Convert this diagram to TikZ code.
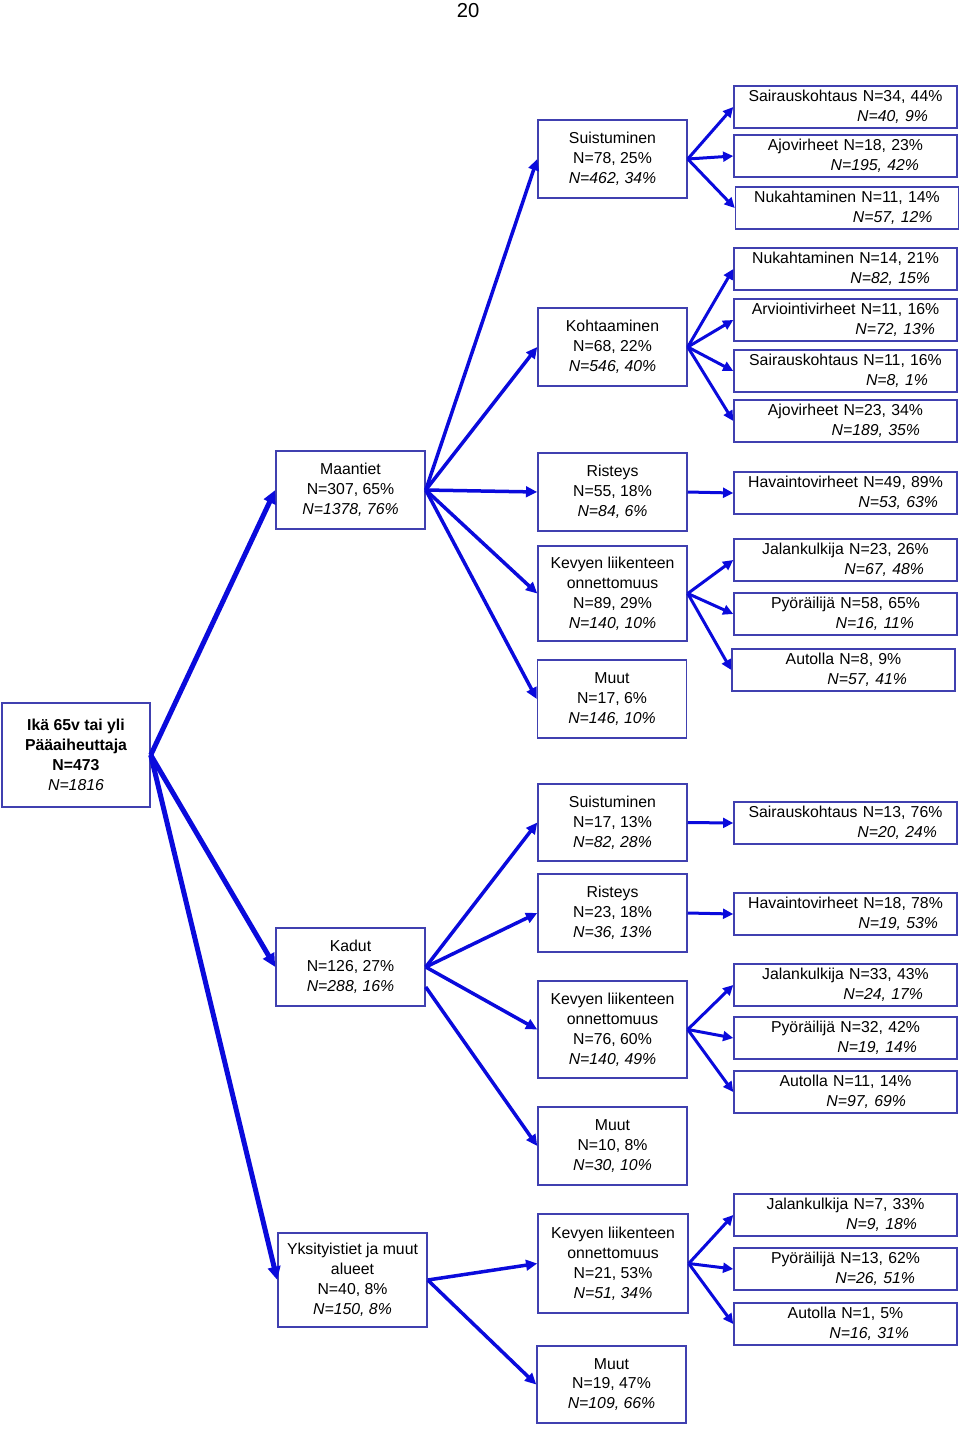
\documentclass[tikz,border=0pt]{standalone}
\usepackage{fontspec}
\setmainfont{Liberation Sans}
\usepackage{tikz}
\usepackage{xcolor}
\usetikzlibrary{arrows.meta}
\newlength\pxu
\setlength\pxu{0.02cm}
\definecolor{boxline}{RGB}{64,64,176}
\definecolor{arrowblue}{RGB}{10,10,220}
\newcommand{\twol}[3][30]{\makebox[\linewidth][c]{#2}\\\makebox[\linewidth][r]{\textit{#3}\hspace*{#1\pxu}}}
\tikzset{
    any-box/.style = {draw=boxline, line width=1.5\pxu, fill=white, rectangle, inner sep=0pt, align=center, font=\fontsize{9}{11.3}\selectfont},
    root-box/.style = {any-box, minimum width=148\pxu, minimum height=104\pxu, font=\fontsize{9}{11.3}\selectfont\bfseries},
    area-box/.style = {any-box, minimum width=149\pxu, minimum height=78\pxu},
    type-box/.style = {any-box, minimum width=149\pxu, minimum height=78\pxu},
    cause-box/.style = {any-box, minimum width=223\pxu, minimum height=42\pxu, text width=223\pxu, align=center},
    big-arrow/.style = {draw=arrowblue, line width=5\pxu, -{Triangle[length=7.6pt, width=7pt]}},
    mid-arrow/.style = {draw=arrowblue, line width=3.5\pxu, -{Triangle[length=6.4pt, width=6pt]}},
    small-arrow/.style = {draw=arrowblue, line width=3\pxu, -{Triangle[length=5.8pt, width=5.6pt]}},
}

\begin{document}
\begin{tikzpicture}[x=1\pxu, y=-1\pxu]
\useasboundingbox (0,0) rectangle (960,1431);
\node[font=\fontsize{11.5}{13}\selectfont] (pagenum) at (468,11) {20};

% root and road types
\node[root-box] (root) at (76,755) {Ikä 65v tai yli\\Pääaiheuttaja\\N=473\\\textit{\mdseries N=1816}};
\node[area-box] (maantiet) at (350.5,490) {Maantiet\\N=307, 65\%\\\textit{N=1378, 76\%}};
\node[area-box] (kadut) at (350.5,967) {Kadut\\N=126, 27\%\\\textit{N=288, 16\%}};
\node[area-box, minimum height=94\pxu] (yksit) at (352.5,1280) {Yksityistiet ja muut\\alueet\\N=40, 8\%\\\textit{N=150, 8\%}};

% accident types
\node[type-box] (m-suist) at (612.5,159) {Suistuminen\\N=78, 25\%\\\textit{N=462, 34\%}};
\node[type-box] (m-koht) at (612.5,347) {Kohtaaminen\\N=68, 22\%\\\textit{N=546, 40\%}};
\node[type-box] (m-rist) at (612.5,492) {Risteys\\N=55, 18\%\\\textit{N=84, 6\%}};
\node[type-box, minimum height=95\pxu] (m-kevyt) at (612.5,593.5) {Kevyen liikenteen\\onnettomuus\\N=89, 29\%\\\textit{N=140, 10\%}};
\node[type-box] (m-muut) at (612,699) {Muut\\N=17, 6\%\\\textit{N=146, 10\%}};
\node[type-box, minimum height=77\pxu] (k-suist) at (612.5,822.5) {Suistuminen\\N=17, 13\%\\\textit{N=82, 28\%}};
\node[type-box] (k-rist) at (612.5,913) {Risteys\\N=23, 18\%\\\textit{N=36, 13\%}};
\node[type-box, minimum height=97\pxu] (k-kevyt) at (612.5,1029.5) {Kevyen liikenteen\\onnettomuus\\N=76, 60\%\\\textit{N=140, 49\%}};
\node[type-box] (k-muut) at (612.5,1146) {Muut\\N=10, 8\%\\\textit{N=30, 10\%}};
\node[type-box, minimum width=150\pxu, minimum height=99\pxu] (y-kevyt) at (613,1263.5) {Kevyen liikenteen\\onnettomuus\\N=21, 53\%\\\textit{N=51, 34\%}};
\node[type-box, minimum height=77\pxu] (y-muut) at (611.5,1384.5) {Muut\\N=19, 47\%\\\textit{N=109, 66\%}};

% causes
\node[cause-box] (ms-sair) at (845.5,107) {\twol[29]{Sairauskohtaus N=34, 44\%}{N=40, 9\%}};
\node[cause-box] (ms-ajo) at (845.5,156) {\twol[38]{Ajovirheet N=18, 23\%}{N=195, 42\%}};
\node[cause-box] (ms-nuk) at (847,208) {\twol[26]{Nukahtaminen N=11, 14\%}{N=57, 12\%}};
\node[cause-box] (mk-nuk) at (845.5,269) {\twol[27]{Nukahtaminen N=14, 21\%}{N=82, 15\%}};
\node[cause-box] (mk-arv) at (845.5,320) {\twol[22]{Arviointivirheet N=11, 16\%}{N=72, 13\%}};
\node[cause-box] (mk-sair) at (845.5,371) {\twol[29]{Sairauskohtaus N=11, 16\%}{N=8, 1\%}};
\node[cause-box] (mk-ajo) at (845.5,421) {\twol[37]{Ajovirheet N=23, 34\%}{N=189, 35\%}};
\node[cause-box] (mr-hav) at (845.5,493) {\twol[19]{Havaintovirheet N=49, 89\%}{N=53, 63\%}};
\node[cause-box] (mv-jal) at (845.5,560) {\twol[33]{Jalankulkija N=23, 26\%}{N=67, 48\%}};
\node[cause-box] (mv-pyo) at (845.5,614) {\twol[43]{Pyöräilijä N=58, 65\%}{N=16, 11\%}};
\node[cause-box] (mv-aut) at (843.5,670) {\twol[48]{Autolla N=8, 9\%}{N=57, 41\%}};
\node[cause-box] (ks-sair) at (845.5,823) {\twol[20]{Sairauskohtaus N=13, 76\%}{N=20, 24\%}};
\node[cause-box] (kr-hav) at (845.5,914) {\twol[19]{Havaintovirheet N=18, 78\%}{N=19, 53\%}};
\node[cause-box] (kv-jal) at (845.5,985) {\twol[34]{Jalankulkija N=33, 43\%}{N=24, 17\%}};
\node[cause-box] (kv-pyo) at (845.5,1038) {\twol[40]{Pyöräilijä N=32, 42\%}{N=19, 14\%}};
\node[cause-box] (kv-aut) at (845.5,1092) {\twol[51]{Autolla N=11, 14\%}{N=97, 69\%}};
\node[cause-box] (yv-jal) at (845.5,1215) {\twol[40]{Jalankulkija N=7, 33\%}{N=9, 18\%}};
\node[cause-box] (yv-pyo) at (845.5,1269) {\twol[42]{Pyöräilijä N=13, 62\%}{N=26, 51\%}};
\node[cause-box] (yv-aut) at (845.5,1324) {\twol[48]{Autolla N=1, 5\%}{N=16, 31\%}};

% arrows
\foreach \dest in {maantiet, kadut, yksit}
    \draw[big-arrow] (root.east) -- (\dest.west);
\foreach \dest in {m-suist, m-koht, m-rist, m-kevyt, m-muut}
    \draw[mid-arrow] (maantiet.east) -- (\dest.west);
\foreach \dest in {k-suist, k-rist, k-kevyt}
    \draw[mid-arrow] (kadut.east) -- (\dest.west);
\draw[mid-arrow] ([yshift=-20\pxu]kadut.east) -- (k-muut.west);
\foreach \dest in {y-kevyt, y-muut}
    \draw[mid-arrow] (yksit.east) -- (\dest.west);

\foreach \dest in {ms-sair, ms-ajo, ms-nuk}
    \draw[small-arrow] (m-suist.east) -- (\dest.west);
\foreach \dest in {mk-nuk, mk-arv, mk-sair, mk-ajo}
    \draw[small-arrow] (m-koht.east) -- (\dest.west);
\draw[small-arrow] (m-rist.east) -- (mr-hav.west);
\foreach \dest in {mv-jal, mv-pyo, mv-aut}
    \draw[small-arrow] (m-kevyt.east) -- (\dest.west);
\draw[small-arrow] (k-suist.east) -- (ks-sair.west);
\draw[small-arrow] (k-rist.east) -- (kr-hav.west);
\foreach \dest in {kv-jal, kv-pyo, kv-aut}
    \draw[small-arrow] (k-kevyt.east) -- (\dest.west);
\foreach \dest in {yv-jal, yv-pyo, yv-aut}
    \draw[small-arrow] (y-kevyt.east) -- (\dest.west);
\end{tikzpicture}
\end{document}
